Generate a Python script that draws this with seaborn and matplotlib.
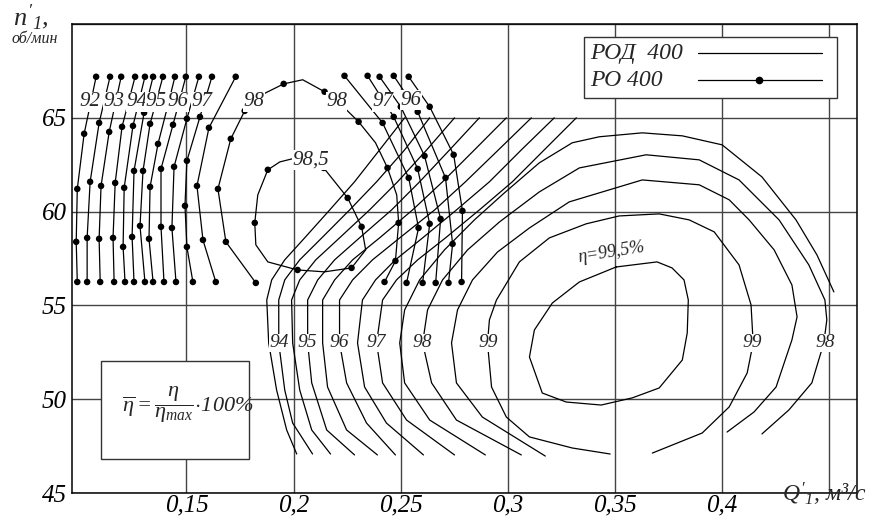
import matplotlib
matplotlib.use("Agg")
import matplotlib.pyplot as plt
import seaborn as sns
import pandas as pd
from matplotlib.lines import Line2D
from matplotlib.patches import Rectangle

# ---- РОД 400 iso-efficiency lines (Q'1, n'1) ----
rod_93_5 = [(0.2015, 47.08), (0.1968, 48.36), (0.1921, 50.49), (0.1884, 53.0), (0.1875, 55.29), (0.1898, 56.36),
            (0.1959, 57.43), (0.2052, 58.60), (0.2169, 60.09), (0.2285, 61.59), (0.2402, 63.29), (0.2519, 65.0)]
rod_94 = [(0.2089, 47.08), (0.1996, 48.73), (0.1959, 50.49), (0.1931, 53.0), (0.1931, 55.29), (0.1959, 56.36),
          (0.2029, 57.43), (0.2132, 58.60), (0.2262, 60.09), (0.2388, 61.59), (0.2519, 63.29), (0.2636, 65.0)]
rod_94_5 = [(0.2173, 47.08), (0.2085, 48.36), (0.2029, 50.49), (0.1996, 53.0), (0.1991, 55.29), (0.2029, 56.36),
            (0.2104, 57.43), (0.2215, 58.60), (0.2355, 60.09), (0.2486, 61.59), (0.2622, 63.29), (0.2752, 65.0)]
rod_95 = [(0.2285, 47.03), (0.2155, 48.36), (0.2085, 50.87), (0.2066, 53.0), (0.2066, 55.29), (0.2113, 56.36),
          (0.2192, 57.43), (0.2308, 58.60), (0.2458, 60.09), (0.2589, 61.59), (0.2729, 63.29), (0.2868, 65.0)]
rod_95_5 = [(0.2392, 47.03), (0.2248, 48.36), (0.2159, 50.65), (0.2136, 53.0), (0.2136, 55.29), (0.2192, 56.36),
            (0.2276, 57.43), (0.2402, 58.60), (0.2556, 60.09), (0.2696, 61.59), (0.2845, 63.29), (0.2994, 65.0)]
rod_96 = [(0.2476, 47.03), (0.2341, 48.73), (0.2248, 50.87), (0.2215, 53.0), (0.2215, 55.29), (0.2276, 56.36),
          (0.2369, 57.43), (0.2496, 58.60), (0.2659, 60.09), (0.2803, 61.59), (0.2957, 63.29), (0.3111, 65.0)]
rod_96_5 = [(0.2607, 47.03), (0.2434, 48.73), (0.2332, 50.65), (0.2299, 53.0), (0.2322, 55.29), (0.2383, 56.36),
            (0.2476, 57.43), (0.2603, 58.60), (0.2761, 60.09), (0.2915, 61.59), (0.3064, 63.29), (0.3218, 65.0)]
rod_97 = [(0.2752, 47.03), (0.2528, 48.89), (0.2416, 50.87), (0.2388, 53.0), (0.2416, 55.29), (0.2481, 56.36),
          (0.2580, 57.43), (0.2710, 58.60), (0.2868, 60.09), (0.3022, 61.59), (0.3171, 63.29), (0.3321, 65.0)]
rod_97_5 = [(0.2896, 47.03), (0.2636, 48.89), (0.2519, 50.87), (0.2496, 53.0), (0.2519, 54.76), (0.2589, 56.36),
            (0.2705, 57.96), (0.2845, 59.56), (0.2985, 61.0), (0.3148, 62.60), (0.3302, 63.67), (0.3428, 63.99),
            (0.3629, 64.2), (0.3816, 64.04), (0.4002, 63.56), (0.4188, 61.85), (0.4347, 59.56), (0.4445, 57.69),
            (0.4524, 55.72)]
rod_98 = [(0.3064, 47.03), (0.2761, 48.89), (0.2645, 50.87), (0.2603, 53.0), (0.2626, 54.76), (0.2696, 56.36),
          (0.2813, 57.96), (0.2962, 59.45), (0.3148, 61.05), (0.3335, 62.33), (0.3647, 63.03), (0.3895, 62.76),
          (0.4081, 61.69), (0.4268, 59.56), (0.4407, 57.16), (0.4482, 55.29), (0.4491, 54.23), (0.4477, 53.0),
          (0.4421, 50.87), (0.4314, 49.43), (0.4188, 48.15)]
rod_98_5 = [(0.3176, 46.97), (0.2882, 49.05), (0.2761, 50.87), (0.2738, 53.0), (0.2766, 54.76), (0.2836, 56.36),
            (0.2953, 57.85), (0.3102, 59.13), (0.3288, 60.52), (0.3629, 61.69), (0.3895, 61.43), (0.4035, 60.63),
            (0.4128, 59.56), (0.4245, 57.96), (0.4328, 56.09), (0.4352, 54.39), (0.4328, 53.16), (0.4254, 50.65),
            (0.4151, 49.32), (0.4025, 48.25)]
rod_99 = [(0.3479, 47.08), (0.3302, 47.40), (0.3102, 47.99), (0.2994, 49.05), (0.2925, 50.65), (0.2906, 53.0),
          (0.2915, 54.23), (0.2948, 55.29), (0.3055, 57.32), (0.3195, 58.60), (0.3367, 59.35), (0.3521, 59.77),
          (0.3708, 59.88), (0.3848, 59.56), (0.3965, 58.92), (0.4081, 57.16), (0.4137, 55.03), (0.4147, 53.0),
          (0.4119, 51.40), (0.4035, 49.59), (0.3909, 48.20), (0.3676, 47.13)]
rod_99_5 = [(0.3507, 57.05), (0.3698, 57.32), (0.3768, 57.0), (0.3824, 56.36), (0.3844, 55.29), (0.3839, 53.53),
            (0.3816, 52.09), (0.3708, 50.60), (0.3582, 50.07), (0.3437, 49.69), (0.3274, 49.85), (0.3162, 50.33),
            (0.3102, 52.25), (0.3125, 53.69), (0.3209, 55.13), (0.3335, 56.25), (0.3507, 57.05)]

# ---- РО 400 test points ----
ro_92 = [(0.1078, 67.19), (0.1022, 64.15), (0.0990, 61.21), (0.0985, 58.39), (0.0990, 56.25)]
ro_92_5 = [(0.1143, 67.19), (0.1092, 64.73), (0.1050, 61.59), (0.1036, 58.60), (0.1036, 56.25)]
ro_93 = [(0.1195, 67.19), (0.1139, 64.25), (0.1101, 61.37), (0.1092, 58.55), (0.1097, 56.25)]
ro_93_5 = [(0.1260, 67.19), (0.1199, 64.52), (0.1167, 61.53), (0.1157, 58.60), (0.1162, 56.25)]
ro_94 = [(0.1306, 67.19), (0.1250, 64.57), (0.1209, 61.27), (0.1204, 58.12), (0.1213, 56.25)]
ro_94_5 = [(0.1344, 67.19), (0.1302, 65.27), (0.1255, 62.17), (0.1246, 58.65), (0.1255, 56.25)]
ro_95 = [(0.1390, 67.19), (0.1330, 64.68), (0.1297, 62.17), (0.1283, 59.24), (0.1306, 56.25)]
ro_95_5 = [(0.1446, 67.19), (0.1409, 65.48), (0.1367, 63.61), (0.1330, 61.32), (0.1325, 58.55), (0.1344, 56.25)]
ro_96 = [(0.1497, 67.19), (0.1437, 64.63), (0.1381, 62.28), (0.1381, 59.19), (0.1395, 56.25)]
ro_96_5 = [(0.1558, 67.19), (0.1502, 64.95), (0.1442, 62.39), (0.1432, 59.13), (0.1451, 56.25)]
ro_97 = [(0.1619, 67.19), (0.1563, 65.05), (0.1502, 62.71), (0.1493, 60.31), (0.1502, 58.12), (0.1530, 56.25)]
ro_97_5 = [(0.1730, 67.19), (0.1605, 64.47), (0.1549, 61.37), (0.1577, 58.49), (0.1637, 56.25)]
ro_98_line = [(0.1824, 56.20), (0.1684, 58.39), (0.1647, 61.21), (0.1707, 63.88), (0.1772, 65.37), (0.1852, 66.23),
              (0.1954, 66.81), (0.2043, 67.03), (0.2145, 66.39), (0.2238, 65.53), (0.2304, 64.79), (0.2383, 63.67),
              (0.2439, 62.33), (0.2482, 60.89), (0.2491, 59.40), (0.2476, 57.37), (0.2425, 56.25)]
ro_98_dots = [(0.1824, 56.20), (0.1684, 58.39), (0.1647, 61.21), (0.1707, 63.88), (0.1772, 65.37), (0.1954, 66.81),
              (0.2145, 66.39), (0.2304, 64.79), (0.2439, 62.33), (0.2491, 59.40), (0.2476, 57.37), (0.2425, 56.25)]
ro_98_5_line = [(0.2141, 62.33), (0.2253, 60.73), (0.2318, 59.19), (0.2337, 57.96), (0.2271, 57.0), (0.2145, 56.79),
                (0.2019, 56.89), (0.1880, 57.32), (0.1824, 58.23), (0.1819, 59.40), (0.1833, 60.89), (0.1880, 62.23),
                (0.1936, 62.65), (0.1992, 62.81), (0.2141, 62.33)]
ro_98_5_dots = [(0.1880, 62.23), (0.2141, 62.33), (0.2253, 60.73), (0.2318, 59.19), (0.2271, 57.0), (0.2019, 56.89),
                (0.1819, 59.40)]
ro_r97_5 = [(0.2238, 67.24), (0.2416, 64.73), (0.2538, 61.80), (0.2584, 59.13), (0.2528, 56.20)]
ro_r97 = [(0.2346, 67.24), (0.2468, 65.05), (0.2580, 62.28), (0.2636, 59.35), (0.2603, 56.20)]
ro_r96_5 = [(0.2402, 67.19), (0.2501, 65.59), (0.2612, 62.97), (0.2687, 59.61), (0.2664, 56.20)]
ro_r96 = [(0.2468, 67.24), (0.2580, 65.32), (0.2710, 61.80), (0.2743, 58.28), (0.2724, 56.20)]
ro_r95_5 = [(0.2538, 67.19), (0.2636, 65.59), (0.2748, 63.03), (0.2789, 60.04), (0.2785, 56.25)]

# ---- labels ----
rod_labels = ["94", "95", "96", "97", "98", "99", "99", "98"]
rod_label_q = [0.1931, 0.2066, 0.2215, 0.2388, 0.2603, 0.2910, 0.4142, 0.4482]
rod_label_n = [53.0] * 8
ro_labels = ["92", "93", "94", "95", "96", "97", "98", "98", "97", "96", "98,5"]
ro_label_q = [0.1050, 0.1161, 0.1269, 0.1357, 0.1460, 0.1572, 0.1814, 0.2201, 0.2416, 0.2547, 0.2080]
ro_label_n = [65.85, 65.85, 65.85, 65.85, 65.85, 65.85, 65.85, 65.85, 65.85, 65.95, 62.76]
legend_labels = ["РОД  400", "РО 400"]

x_ticks = [0.15, 0.2, 0.25, 0.3, 0.35, 0.4, 0.45]
x_tick_labels = ["0,15", "0,2", "0,25", "0,3", "0,35", "0,4", ""]
y_ticks = [45, 50, 55, 60, 65, 70]
y_tick_labels = ["45", "50", "55", "60", "65", ""]

sns.set_theme(style="white")
plt.rcParams["font.family"] = ["Liberation Serif", "DejaVu Serif"]
plt.rcParams["font.style"] = "italic"
plt.rcParams["mathtext.fontset"] = "custom"
plt.rcParams["mathtext.it"] = "Liberation Serif:italic"
plt.rcParams["mathtext.rm"] = "Liberation Serif:italic"

fig = plt.figure(figsize=(8.69, 5.26), dpi=100)
ax = fig.add_axes([0.0829, 0.0627, 0.9033, 0.8916])


def line(pts, lw=0.9):
    df = pd.DataFrame(pts, columns=["Q", "n"])
    sns.lineplot(data=df, x="Q", y="n", sort=False, estimator=None, color="black",
                 lw=lw, ax=ax, legend=False, zorder=2)


def dots(pts):
    df = pd.DataFrame(pts, columns=["Q", "n"])
    sns.scatterplot(data=df, x="Q", y="n", color="black", s=22, edgecolor="none",
                    ax=ax, legend=False, zorder=3)


for c in [rod_93_5, rod_94, rod_94_5, rod_95, rod_95_5, rod_96, rod_96_5, rod_97,
          rod_97_5, rod_98, rod_98_5, rod_99, rod_99_5]:
    line(c)

for c in [ro_92, ro_92_5, ro_93, ro_93_5, ro_94, ro_94_5, ro_95, ro_95_5, ro_96, ro_96_5,
          ro_97, ro_97_5, ro_r97_5, ro_r97, ro_r96_5, ro_r96, ro_r95_5]:
    line(c)
    dots(c)
line(ro_98_line)
dots(ro_98_dots)
line(ro_98_5_line)
dots(ro_98_5_dots)

box = dict(facecolor="white", edgecolor="none", pad=0.3)
for t, q, n in zip(rod_labels, rod_label_q, rod_label_n):
    ax.text(q, n, t, fontsize=14, ha="center", va="center", bbox=box, zorder=4)
for t, q, n in zip(ro_labels, ro_label_q, ro_label_n):
    ax.text(q, n, t, fontsize=15, ha="center", va="center", bbox=box, zorder=4)
ax.text(0.3484, 57.85, "η=99,5%", fontsize=13, ha="center", va="center", rotation=9, zorder=4)

ax.set_xlim(0.09655, 0.4632)
ax.set_ylim(45, 70)
ax.set_xticks(x_ticks)
ax.set_xticklabels(x_tick_labels)
ax.set_yticks(y_ticks)
ax.set_yticklabels(y_tick_labels)
ax.tick_params(length=0, labelsize=18, colors="black")
ax.tick_params(axis="x", pad=1)
ax.tick_params(axis="y", pad=4)
ax.set_xlabel("")
ax.set_ylabel("")
ax.set_axisbelow(True)
ax.grid(True, color="#444444", lw=1.0)
for s in ax.spines.values():
    s.set_color("black")
    s.set_linewidth(1.1)

# formula box
ax.add_patch(Rectangle((0.037, 0.0725), 0.1885, 0.2085, transform=ax.transAxes,
                       facecolor="white", edgecolor="#333333", lw=1.0, zorder=5))
ax.text(0.148, 0.188, r"$\overline{\eta}=\dfrac{\eta}{\eta_{max}}{\cdot}100\%$", transform=ax.transAxes,
        fontsize=16, ha="center", va="center", zorder=6)

# legend box
ax.add_patch(Rectangle((0.652, 0.842), 0.323, 0.130, transform=ax.transAxes,
                       facecolor="white", edgecolor="#333333", lw=1.0, zorder=7))
ax.text(0.660, 0.938, legend_labels[0], transform=ax.transAxes, fontsize=17,
        ha="left", va="center", zorder=8)
ax.text(0.660, 0.879, legend_labels[1], transform=ax.transAxes, fontsize=17,
        ha="left", va="center", zorder=8)
ax.add_line(Line2D([0.797, 0.955], [0.938, 0.938], transform=ax.transAxes, color="black", lw=0.9, zorder=8))
ax.add_line(Line2D([0.797, 0.955], [0.881, 0.881], transform=ax.transAxes, color="black", lw=0.9, zorder=8))
ax.add_line(Line2D([0.875], [0.881], transform=ax.transAxes, color="black", marker="o", ms=4.5, zorder=9))

fig.text(0.015, 0.952, r"$n'_1$,", fontsize=19)
fig.text(0.013, 0.918, "об/мин", fontsize=11.5)
fig.text(0.997, 0.046, r"$Q'_1$, м³/с", fontsize=17, ha="right", va="baseline")

fig.savefig("out.png", dpi=100)
